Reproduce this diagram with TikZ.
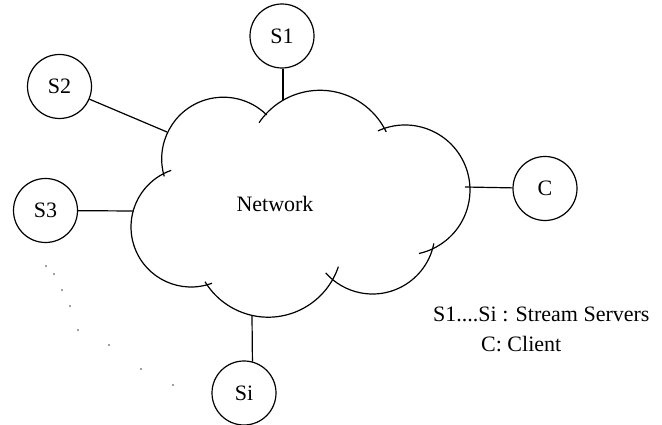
\documentclass[tikz,border=0pt]{standalone}
\usepackage{fontspec}
\setmainfont{Liberation Serif}
\begin{document}
\begin{tikzpicture}[x=1pt,y=1pt,
  every node/.style={font=\fontsize{22}{26}\selectfont},
  srv/.style={draw,circle,line width=1.2pt,minimum size=64pt,inner sep=0pt},
  lobe/.style={line width=1.2pt},
  link/.style={line width=1.2pt},
  dotmark/.style={fill=black!75,draw=none}]
\useasboundingbox (0,0) rectangle (662,425);
% cloud lobes
\draw[lobe] ([shift={(196.5:61.7)}]223.4,266.1) arc[start angle=196.5,end angle=45.4,radius=61.7];
\draw[lobe] ([shift={(146:73.5)}]320,261.2) arc[start angle=146,end angle=25.7,radius=73.5];
\draw[lobe] ([shift={(114.6:65)}]405,235) arc[start angle=114.6,end angle=-77.6,radius=65];
\draw[lobe] ([shift={(-11:62.5)}]372.5,193.5) arc[start angle=-11,end angle=-138.5,radius=62.5];
\draw[lobe] ([shift={(-18.5:74)}]268.2,181.8) arc[start angle=-18.5,end angle=-148.6,radius=74];
\draw[lobe] ([shift={(290.4:60)}]191,198) arc[start angle=290.4,end angle=109.2,radius=60];
\node (net) at (275,221) {Network};
% attachment points on the cloud
\coordinate (cS1) at (283,324.7);
\coordinate (cS2) at (167,293);
\coordinate (cS3) at (133.2,214);
\coordinate (cC) at (465,238);
\coordinate (cSi) at (252,109.6);
% servers and client
\node[srv] (s1) at (282,389) {S1};
\node[srv] (s2) at (59.5,338.5) {S2};
\node[srv] (s3) at (45.5,214.5) {S3};
\node[srv] (c) at (545,236.5) {C};
\node[srv] (si) at (244,32) {Si};
% connectors
\draw[link] (cS1) -- (cS1 |- s1.south);
\draw[link] (s2) -- (cS2);
\draw[link] (s3) -- (cS3);
\draw[link] (cC) -- (c);
\draw[link] (cSi) -- (si.75.5);
% dots
\foreach \px/\py in {46/266,54/274,62/290,70/306,78/330,109/345,141/369,173/385}
  \fill[dotmark] (\px,425-\py) circle (0.8);
% legend
\node[anchor=base west,inner sep=0pt] (leg1) at (433,103) {S1....Si : Stream Servers};
\node[anchor=base west,inner sep=0pt] (leg2) at (481,73) {C: Client};
\end{tikzpicture}
\end{document}
